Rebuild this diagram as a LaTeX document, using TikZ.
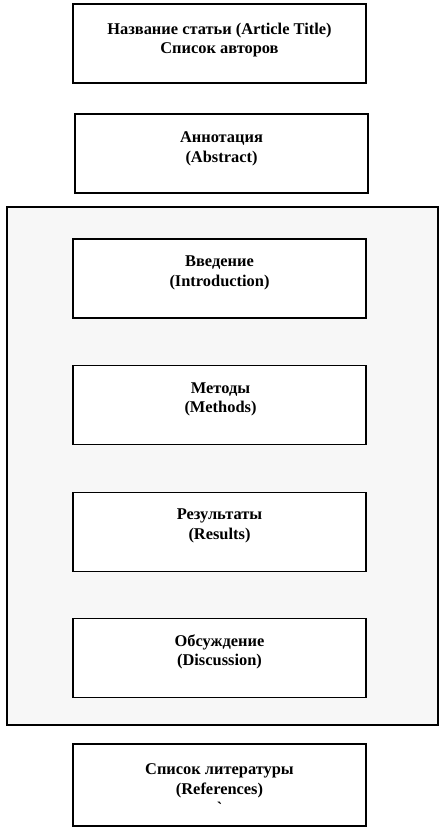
\documentclass[tikz,border=0pt]{standalone}
\usepackage{fontspec}
\setmainfont{Liberation Serif}
\newfontfamily\gravefont{Liberation Serif}[Ligatures=ResetAll]
\definecolor{panelgray}{HTML}{F7F7F7}
\begin{document}
\begin{tikzpicture}[x=1pt,y=-1pt,
  box/.style={draw=black,line width=1.1pt,fill=white,minimum width=293pt,minimum height=79pt,inner sep=0pt,outer sep=0pt},
  panel/.style={draw=black,line width=1.1pt,fill=panelgray},
  lbl/.style={font=\fontsize{16.4}{19.5}\selectfont\bfseries,align=center,inner sep=0pt}]
\useasboundingbox (0,0) rectangle (443,829);
\node[panel,minimum width=431pt,minimum height=518pt,inner sep=0pt] (panel) at (222.5,466) {};
\node[box] (title) at (219.5,43.5) {};
\node[lbl] (titletext) at (219.5,40) {Название статьи (Article Title)\\Список авторов};
\node[box] (abstract) at (221.5,153.5) {};
\node[lbl] (abstracttext) at (221.5,149) {Аннотация\\(Abstract)};
\node[box] (intro) at (219.5,278.5) {};
\node[lbl] (introtext) at (219.5,273) {Введение\\(Introduction)};
\node[box] (methods) at (219.5,405.3) {};
\node[lbl] (methodstext) at (220.5,399.5) {Методы\\(Methods)};
\node[box] (results) at (219.5,531.6) {};
\node[lbl] (resultstext) at (219.5,526) {Результаты\\(Results)};
\node[box] (discussion) at (219.5,658) {};
\node[lbl] (discussiontext) at (219.5,652) {Обсуждение\\(Discussion)};
\node[box,minimum height=82pt] (refs) at (219.5,785) {};
\node[lbl] (refstext) at (219.5,789) {Список литературы\\(References)\\{\gravefont\bfseries\symbol{96}}};
\end{tikzpicture}
\end{document}
